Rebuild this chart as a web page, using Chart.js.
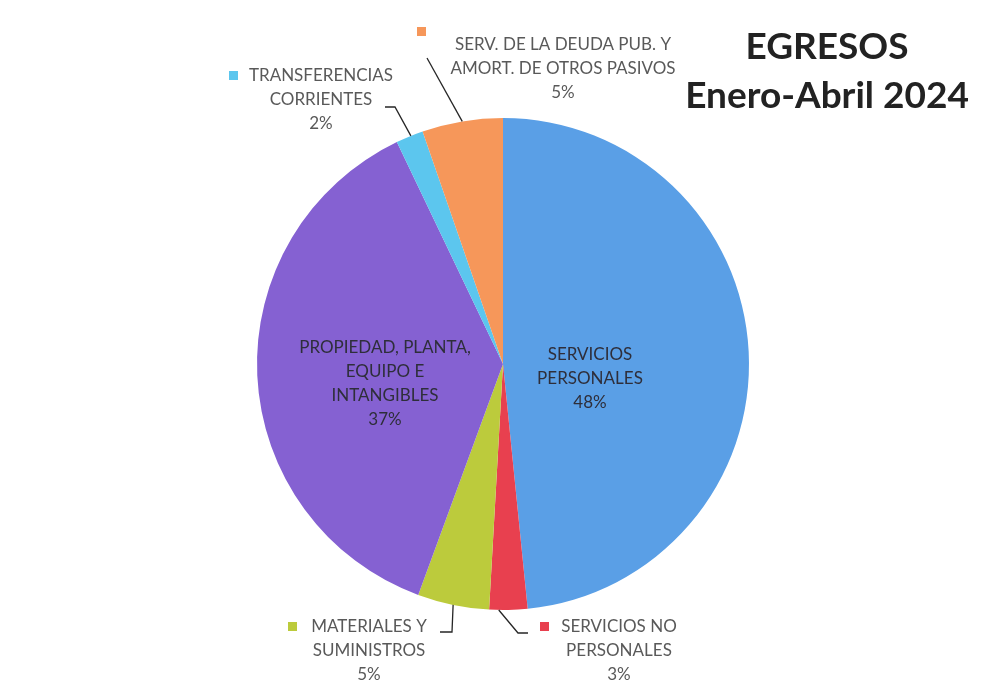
<!DOCTYPE html>
<html>
<head>
<meta charset="utf-8">
<title>EGRESOS Enero-Abril 2024</title>
<script src="https://cdn.jsdelivr.net/npm/chart.js@4.4.1/dist/chart.umd.min.js"></script>
<style>
  html, body { margin: 0; padding: 0; background: #ffffff; }
  #wrap { width: 991px; height: 693px; }
</style>
</head>
<body>
<div id="wrap"><canvas id="egresosChart" width="991" height="693"></canvas></div>
<script>
// datos del grafico (en sentido horario desde las 12)
const categorias = [
  ['SERVICIOS', 'PERSONALES'],
  ['SERVICIOS NO', 'PERSONALES'],
  ['MATERIALES Y', 'SUMINISTROS'],
  ['PROPIEDAD, PLANTA,', 'EQUIPO E', 'INTANGIBLES'],
  ['TRANSFERENCIAS', 'CORRIENTES'],
  ['SERV. DE LA DEUDA PUB. Y', 'AMORT. DE OTROS PASIVOS']
];
const porcentajes = [48.4, 2.5, 4.7, 37.3, 1.8, 5.3];
const colores = ['#5a9fe6', '#e8404f', '#bccb3c', '#8561d2', '#5cc6ee', '#f6975a'];
const titulo = ['EGRESOS', 'Enero-Abril 2024'];

// donde va cada etiqueta (centro de la primera linea), su cuadrito y la linea guia
const ubicaciones = [
  { dentro: true, x: 590, y: 355 },
  { x: 619, y: 627, cuadro: [540, 622], frac: 0.75, guia: [[518, 633], [528, 633]] },
  { x: 369, y: 627, cuadro: [288, 622], frac: 0.5, guia: [[452, 632], [440, 632]] },
  { dentro: true, x: 385, y: 348 },
  { x: 321, y: 76, cuadro: [229, 71], frac: 0.55, guia: [[395, 107], [385, 107]] },
  { x: 563, y: 45, cuadro: [417, 27], frac: 0.5, guia: [[427, 58]] }
];

const FUENTE = 'Lato, "Open Sans", sans-serif';

// plugin para dibujar etiquetas, lineas guia y titulo
const etiquetasPlugin = {
  id: 'etiquetas',
  afterDraw(chart) {
    const ctx = chart.ctx;
    const arcos = chart.getDatasetMeta(0).data;
    ctx.save();
    ctx.textAlign = 'center';
    ctx.textBaseline = 'middle';

    arcos.forEach((arco, i) => {
      const u = ubicaciones[i];
      const lineas = categorias[i].concat([Math.round(porcentajes[i]) + '%']);

      if (!u.dentro) {
        // linea guia desde el borde de la rebanada
        const p = arco.getProps(['x', 'y', 'startAngle', 'endAngle', 'outerRadius'], true);
        const ang = p.startAngle + (p.endAngle - p.startAngle) * u.frac;
        ctx.strokeStyle = '#262626';
        ctx.lineWidth = 1.3;
        ctx.beginPath();
        ctx.moveTo(p.x + Math.cos(ang) * p.outerRadius, p.y + Math.sin(ang) * p.outerRadius);
        u.guia.forEach(pt => ctx.lineTo(pt[0], pt[1]));
        ctx.stroke();

        // cuadrito de leyenda
        ctx.fillStyle = colores[i];
        ctx.fillRect(u.cuadro[0], u.cuadro[1], 9, 9);
      }

      ctx.fillStyle = u.dentro ? '#2e2e3a' : '#595959';
      ctx.font = '17px ' + FUENTE;
      lineas.forEach((txt, k) => {
        ctx.fillText(txt, u.x, u.y + k * 24);
      });
    });

    // titulo
    ctx.fillStyle = '#222222';
    ctx.font = 'bold 37px ' + FUENTE;
    ctx.fillText(titulo[0], 827, 47);
    ctx.fillText(titulo[1], 827, 96);
    ctx.restore();
  }
};

const grafico = document.getElementById('egresosChart');

new Chart(grafico, {
  type: 'pie',
  data: {
    labels: categorias,
    datasets: [
      {
        data: porcentajes,
        backgroundColor: colores,
        borderWidth: 0
      }]
  },
  options: {
    responsive: false,
    animation: false,
    layout: {
      padding: { top: 118, bottom: 83, left: 257, right: 242 }
    },
    plugins: {
      legend: { display: false },
      tooltip: { enabled: false },
      title: { display: false }
    }
  },
  plugins: [etiquetasPlugin]
});
</script>
</body>
</html>
